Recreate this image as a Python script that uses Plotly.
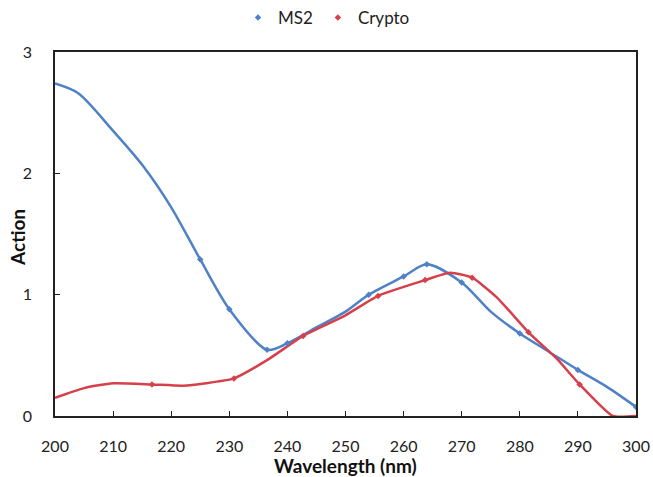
import plotly.graph_objects as go

# MS2 action spectrum (curve points)
ms2_wl = [200, 204, 210, 215, 220, 225, 230, 236.5, 240, 245, 250, 254, 260, 264, 270, 275, 280, 285, 290, 295, 300]
ms2_act = [2.74, 2.66, 2.35, 2.07, 1.72, 1.29, 0.88, 0.545, 0.60, 0.73, 0.86, 1.0, 1.15, 1.25, 1.10, 0.86, 0.68, 0.53, 0.38, 0.24, 0.075]
# MS2 marked data points
ms2_mk_wl = [225, 230, 236.5, 240, 254, 260, 264, 270, 280, 290, 300]
ms2_mk_act = [1.29, 0.88, 0.545, 0.60, 1.0, 1.15, 1.25, 1.10, 0.68, 0.38, 0.075]

# Crypto action spectrum (curve points)
cry_wl = [200, 205, 210, 216.7, 222, 226, 230.8, 236.5, 242.7, 250, 255.6, 263.7, 268, 271.8, 276, 281.5, 286.4, 290.3, 296, 300]
cry_act = [0.15, 0.23, 0.27, 0.26, 0.25, 0.27, 0.31, 0.46, 0.66, 0.83, 0.99, 1.12, 1.18, 1.14, 0.98, 0.69, 0.47, 0.26, 0.0, 0.0]
# Crypto marked data points
cry_mk_wl = [216.7, 230.8, 242.7, 255.6, 263.7, 271.8, 281.5, 290.3]
cry_mk_act = [0.26, 0.31, 0.66, 0.99, 1.12, 1.14, 0.69, 0.26]

x_ticks = [200, 210, 220, 230, 240, 250, 260, 270, 280, 290, 300]
y_ticks = [0, 1, 2, 3]
x_title = "Wavelength (nm)"
y_title = "Action"

BLUE = "#4f81c7"
RED = "#d6404a"
FONT = "Lato"

fig = go.Figure()
fig.add_trace(go.Scatter(x=ms2_wl, y=ms2_act, mode="lines", line=dict(color=BLUE, width=2.5, shape="spline", smoothing=0.8),
                         showlegend=False, hoverinfo="skip"))
fig.add_trace(go.Scatter(x=cry_wl, y=cry_act, mode="lines", line=dict(color=RED, width=2.5, shape="spline", smoothing=0.5),
                         showlegend=False, hoverinfo="skip"))
fig.add_trace(go.Scatter(x=ms2_mk_wl, y=ms2_mk_act, mode="markers", name="MS2",
                         marker=dict(color=BLUE, size=5, symbol="diamond")))
fig.add_trace(go.Scatter(x=cry_mk_wl, y=cry_mk_act, mode="markers", name="Crypto",
                         marker=dict(color=RED, size=5, symbol="diamond")))

axis_common = dict(showline=True, linecolor="#222222", linewidth=1.5, mirror=True, showgrid=False, zeroline=False,
                   ticks="inside", ticklen=5, tickcolor="#222222", automargin=False,
                   tickfont=dict(family=FONT, size=16, color="#222222"))
fig.update_xaxes(range=[200, 300], tickvals=x_ticks, ticklabelstandoff=15, **axis_common)
fig.update_yaxes(range=[0, 3], tickvals=y_ticks, ticklabelstandoff=18, **axis_common)

fig.add_annotation(text="<b>" + x_title + "</b>", xref="paper", yref="paper", x=0.5, y=-0.137,
                   xanchor="center", yanchor="middle", showarrow=False,
                   font=dict(family=FONT, size=19, color="#111111"))
fig.add_annotation(text="<b>" + y_title + "</b>", xref="paper", yref="paper", x=-0.0637, y=0.492,
                   xanchor="center", yanchor="middle", textangle=-90, showarrow=False,
                   font=dict(family=FONT, size=19, color="#111111"))

fig.update_layout(
    width=653, height=477,
    margin=dict(l=55, r=17, t=52, b=61, autoexpand=False),
    paper_bgcolor="white", plot_bgcolor="white",
    font=dict(family=FONT, size=16, color="#222222"),
    legend=dict(orientation="h", x=0.5, xref="container", xanchor="center", y=1 - 18 / 477, yanchor="middle",
                yref="container", font=dict(family=FONT, size=17), itemwidth=30, tracegroupgap=0),
)
fig.write_html("out.html", config={"displayModeBar": False}, post_script="document.body.style.margin='0';")
